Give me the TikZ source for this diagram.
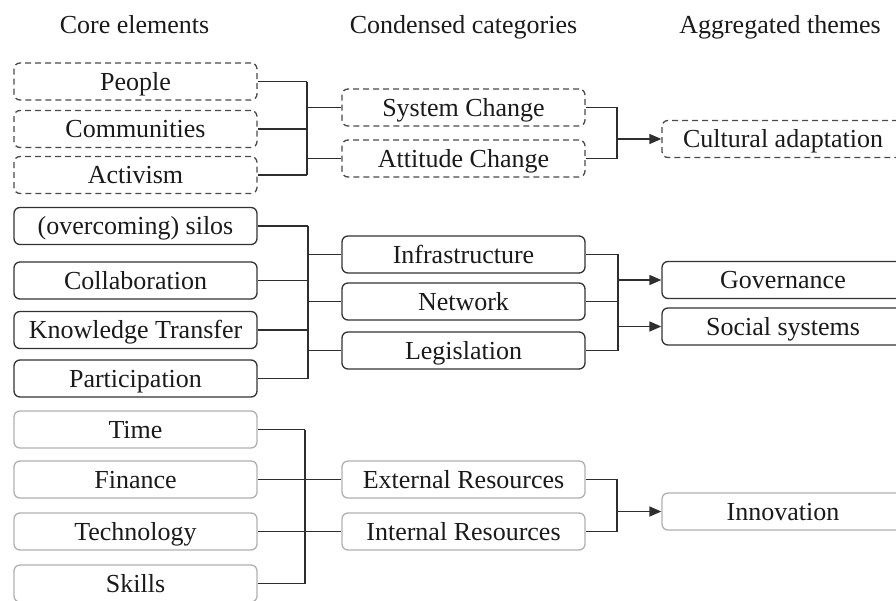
\documentclass[tikz,border=0pt]{standalone}
\usepackage{fontspec}
\setmainfont{Liberation Serif}
\usetikzlibrary{arrows.meta}
\definecolor{dashc}{HTML}{4A4A4A}
\definecolor{solidc}{HTML}{333333}
\definecolor{lightc}{HTML}{B0B0B0}
\definecolor{linec}{HTML}{2E2E2E}
\definecolor{txt}{HTML}{1A1A1A}
\tikzset{
  box/.style={rounded corners=6pt, minimum width=243pt, minimum height=37pt, inner sep=0pt,
    font=\fontsize{26}{30}\selectfont, text=txt, text height=21pt, text depth=4pt, line width=1.3pt},
  dashbox/.style={box, draw=dashc, dash pattern=on 6pt off 4pt},
  solidbox/.style={box, draw=solidc},
  lightbox/.style={box, draw=lightc},
  head/.style={font=\fontsize{26}{30}\selectfont, text=txt, anchor=base, inner sep=0pt},
  conn/.style={draw=linec, line width=1.5pt},
  arr/.style={conn, -{Triangle[length=12pt,width=10pt]}}
}
\begin{document}
\begin{tikzpicture}[x=1pt,y=-1pt]
\useasboundingbox (0,0) rectangle (896,600);
\clip (0,0) rectangle (896,600);
% headings
\node[head] (h1) at (134.5,33) {Core elements};
\node[head] (h2) at (463.5,33) {Condensed categories};
\node[head] (h3) at (780,33) {Aggregated themes};
% top group
\node[dashbox] (people) at (135.5,81.5) {People};
\node[dashbox] (comm) at (135.5,129) {Communities};
\node[dashbox] (activ) at (135.5,175) {Activism};
\node[dashbox] (sys) at (463.5,107.5) {System Change};
\node[dashbox] (att) at (463.5,158.5) {Attitude Change};
\node[dashbox, minimum width=242pt] (cult) at (783,139) {Cultural adaptation};
% middle group
\node[solidbox] (silos) at (135.5,226) {(overcoming) silos};
\node[solidbox] (collab) at (135.5,280.5) {Collaboration};
\node[solidbox] (know) at (135.5,330) {Knowledge Transfer};
\node[solidbox] (part) at (135.5,378.5) {Participation};
\node[solidbox] (infra) at (463.5,254.5) {Infrastructure};
\node[solidbox] (net) at (463.5,301.5) {Network};
\node[solidbox] (legis) at (463.5,350.5) {Legislation};
\node[solidbox, minimum width=242pt] (gov) at (783,280) {Governance};
\node[solidbox, minimum width=242pt] (soc) at (783,326.5) {Social systems};
% bottom group
\node[lightbox] (time) at (135.5,429.5) {Time};
\node[lightbox] (fin) at (135.5,479.5) {Finance};
\node[lightbox] (tech) at (135.5,531.5) {Technology};
\node[lightbox] (skills) at (135.5,583.5) {Skills};
\node[lightbox] (ext) at (463.5,479.5) {External Resources};
\node[lightbox] (int) at (463.5,531.5) {Internal Resources};
\node[lightbox, minimum width=242pt] (innov) at (783,511.5) {Innovation};
% bus coordinates
\coordinate (b1) at (307,0);
\coordinate (r1) at (617,0);
\coordinate (b2) at (308,0);
\coordinate (r2) at (618,0);
\coordinate (b3) at (305,0);
\coordinate (r3) at (617,0);
% top connectors
\draw[conn] (people.east) -- (people.east -| b1);
\draw[conn] (comm.east) -- (comm.east -| b1);
\draw[conn] (activ.east) -- (activ.east -| b1);
\draw[conn] (people.east -| b1) -- (activ.east -| b1);
\draw[conn] (b1 |- sys.west) -- (sys.west);
\draw[conn] (b1 |- att.west) -- (att.west);
\draw[conn] (sys.east) -- (sys.east -| r1) -- (att.east -| r1) -- (att.east);
\draw[arr] (r1 |- cult.west) -- (cult.west);
% middle connectors
\draw[conn] (silos.east) -- (silos.east -| b2);
\draw[conn] (collab.east) -- (collab.east -| b2);
\draw[conn] (know.east) -- (know.east -| b2);
\draw[conn] (part.east) -- (part.east -| b2);
\draw[conn] (silos.east -| b2) -- (part.east -| b2);
\draw[conn] (b2 |- infra.west) -- (infra.west);
\draw[conn] (b2 |- net.west) -- (net.west);
\draw[conn] (b2 |- legis.west) -- (legis.west);
\draw[conn] (infra.east) -- (infra.east -| r2) -- (legis.east -| r2) -- (legis.east);
\draw[conn] (net.east) -- (net.east -| r2);
\draw[arr] (r2 |- gov.west) -- (gov.west);
\draw[arr] (r2 |- soc.west) -- (soc.west);
% bottom connectors
\draw[conn] (time.east) -- (time.east -| b3);
\draw[conn] (fin.east) -- (ext.west);
\draw[conn] (tech.east) -- (int.west);
\draw[conn] (skills.east) -- (skills.east -| b3);
\draw[conn] (time.east -| b3) -- (skills.east -| b3);
\draw[conn] (ext.east) -- (ext.east -| r3) -- (int.east -| r3) -- (int.east);
\draw[arr] (r3 |- innov.west) -- (innov.west);
\end{tikzpicture}
\end{document}
